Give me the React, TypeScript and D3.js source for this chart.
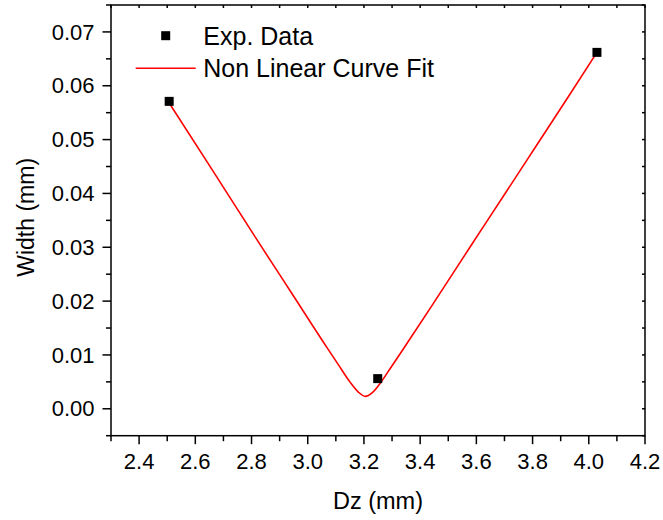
import React from 'react';
import * as d3 from 'd3';

const expX = [2.507, 3.249, 4.029];
const expY = [0.0571, 0.0056, 0.0662];

// Non linear curve fit
const fitX = [2.507, 2.65, 2.818, 2.95, 3.068, 3.11, 3.15, 3.18, 3.205, 3.23, 3.26, 3.30, 3.34, 3.45, 3.577, 3.70, 3.815, 3.93, 4.029];
const fitY = [0.0568, 0.0452, 0.0315, 0.0209, 0.0114, 0.0081, 0.0050, 0.0031, 0.0023, 0.0030, 0.0049, 0.0080, 0.0111, 0.0198, 0.0300, 0.0398, 0.0490, 0.0582, 0.0662];

const xTickLabels = ['2.4', '2.6', '2.8', '3.0', '3.2', '3.4', '3.6', '3.8', '4.0', '4.2'];
const yTickLabels = ['0.00', '0.01', '0.02', '0.03', '0.04', '0.05', '0.06', '0.07'];
const seriesNames = ['Exp. Data', 'Non Linear Curve Fit'];
const xTitle = 'Dz (mm)';
const yTitle = 'Width (mm)';

const FONT = "'Liberation Sans', Arial, Helvetica, sans-serif";

export default function App() {
  const W = 663, H = 520;
  const left = 111, right = 645, top = 5, bottom = 435.7;
  const x = d3.scaleLinear().domain([2.3, 4.2]).range([left, right]);
  const y = d3.scaleLinear().domain([-0.005, 0.075]).range([bottom, top]);

  const xMajor = xTickLabels.map(Number);
  const xMinor = d3.range(0, 10).map(i => +(2.3 + i * 0.2).toFixed(2));
  const xAll = d3.range(0, 20).map(i => +(2.3 + i * 0.1).toFixed(2));
  const yMajor = yTickLabels.map(Number);
  const yMinor = d3.range(0, 9).map(i => +(-0.005 + i * 0.01).toFixed(4));
  const yAll = d3.range(0, 17).map(i => +(-0.005 + i * 0.005).toFixed(4));

  const fitData = fitX.map((v, i) => [v, fitY[i]] as [number, number]);
  const line = d3.line<[number, number]>()
    .x(d => x(d[0]))
    .y(d => y(d[1]))
    .curve(d3.curveMonotoneX);

  const stroke = '#000';
  const sw = 1.5;
  const ms = 9;

  return (
    <svg width={W} height={H} style={{ position: 'absolute', left: 0, top: 0, background: '#fff' }} fontFamily={FONT}>
      <rect x={0} y={0} width={W} height={H} fill="#fff" />
      {/* frame */}
      <rect x={left} y={top} width={right - left} height={bottom - top} fill="none" stroke={stroke} strokeWidth={sw} />

      {/* bottom ticks (outward) */}
      {xMajor.map((v, i) => (
        <line key={'xb' + i} x1={x(v)} x2={x(v)} y1={bottom} y2={bottom + 8.5} stroke={stroke} strokeWidth={sw} />
      ))}
      {xMinor.map((v, i) => (
        <line key={'xbm' + i} x1={x(v)} x2={x(v)} y1={bottom} y2={bottom + 5.5} stroke={stroke} strokeWidth={sw} />
      ))}
      {/* top ticks (inward) */}
      {xAll.map((v, i) => (
        <line key={'xt' + i} x1={x(v)} x2={x(v)} y1={top} y2={top + 3} stroke={stroke} strokeWidth={sw} />
      ))}
      {/* left ticks (outward) */}
      {yMajor.map((v, i) => (
        <line key={'yl' + i} x1={left - 8.5} x2={left} y1={y(v)} y2={y(v)} stroke={stroke} strokeWidth={sw} />
      ))}
      {yMinor.map((v, i) => (
        <line key={'ylm' + i} x1={left - 5} x2={left} y1={y(v)} y2={y(v)} stroke={stroke} strokeWidth={sw} />
      ))}
      {/* right ticks (inward) */}
      {yAll.map((v, i) => (
        <line key={'yr' + i} x1={right - 3} x2={right} y1={y(v)} y2={y(v)} stroke={stroke} strokeWidth={sw} />
      ))}

      {/* tick labels */}
      {xTickLabels.map((t, i) => (
        <text key={'xl' + i} x={x(xMajor[i])} y={bottom + 33.3} textAnchor="middle" fontSize={22} fill="#000">{t}</text>
      ))}
      {yTickLabels.map((t, i) => (
        <text key={'ylb' + i} x={left - 16.5} y={y(yMajor[i]) + 7.6} textAnchor="end" fontSize={22} fill="#000">{t}</text>
      ))}

      {/* axis titles */}
      <text x={(left + right) / 2} y={509.3} textAnchor="middle" fontSize={23.5} fill="#000">{xTitle}</text>
      <text transform={`translate(33.5,${(top + bottom) / 2 - 3}) rotate(-90)`} textAnchor="middle" fontSize={23} fill="#000">{yTitle}</text>

      {/* fit curve */}
      <path d={line(fitData) || ''} fill="none" stroke="#ff0000" strokeWidth={1.6} />

      {/* experimental points */}
      {expX.map((v, i) => (
        <rect key={'p' + i} x={x(v) - ms / 2} y={y(expY[i]) - ms / 2} width={ms} height={ms} fill="#000" />
      ))}

      {/* legend */}
      <rect x={165.7 - ms / 2} y={35.7 - ms / 2} width={ms} height={ms} fill="#000" />
      <text x={203.3} y={45} fontSize={25} fill="#000">{seriesNames[0]}</text>
      <line x1={135.7} x2={195.7} y1={68.3} y2={68.3} stroke="#ff0000" strokeWidth={1.6} />
      <text x={203.3} y={76.7} fontSize={25} fill="#000">{seriesNames[1]}</text>
    </svg>
  );
}
